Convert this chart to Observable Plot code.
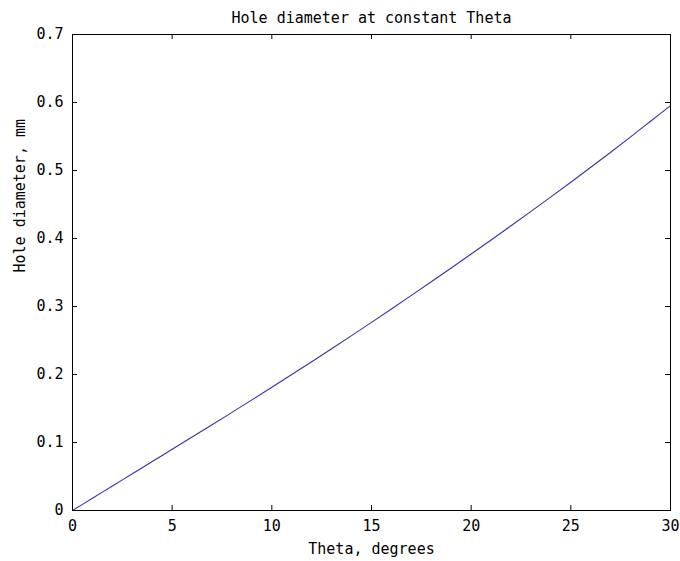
<!DOCTYPE html>
<html>
<head>
<meta charset="utf-8">
<script src="https://cdn.jsdelivr.net/npm/d3@7"></script>
<script src="https://cdn.jsdelivr.net/npm/@observablehq/plot@0.6"></script>
<style>
  html, body { margin: 0; padding: 0; background: #fff; }
</style>
</head>
<body>
<div id="chart"></div>
<script>
const theta = [0,1,2,3,4,5,6,7,8,9,10,11,12,13,14,15,16,17,18,19,20,21,22,23,24,25,26,27,28,29,30];
const diameter = [0,0.018,0.036,0.054,0.072,0.090,0.108,0.126,0.1443,0.1627,0.1812,0.1999,0.2188,0.2379,0.2572,0.2767,0.2964,0.3163,0.3364,0.3567,0.3772,0.3979,0.4188,0.4399,0.4612,0.4828,0.5047,0.5269,0.5495,0.5725,0.5955];
const xTicks = [0,5,10,15,20,25,30];
const yTicks = [0,0.1,0.2,0.3,0.4,0.5,0.6,0.7];
const yTickLabels = ["0","0.1","0.2","0.3","0.4","0.5","0.6","0.7"];
const title = "Hole diameter at constant Theta";
const xLabel = "Theta, degrees";
const yLabel = "Hole diameter, mm";

const data = theta.map((t, i) => ({theta: t, d: diameter[i]}));

const W = 680, H = 561, mL = 72, mR = 10, mT = 34, mB = 51;
const innerW = W - mL - mR, innerH = H - mT - mB;
const tickLen = 5;
const font = "DejaVu Sans Mono";

const chart = Plot.plot({
  width: W, height: H,
  marginLeft: mL, marginRight: mR, marginTop: mT, marginBottom: mB,
  style: {fontFamily: font, fontSize: "15px", color: "#000", background: "#fff"},
  x: {domain: [0, 30]},
  y: {domain: [0, 0.7]},
  marks: [
    Plot.line(data, {x: "theta", y: "d", stroke: "#3434aa", strokeWidth: 1.1, curve: "monotone-x"}),
    Plot.frame({stroke: "#000", strokeWidth: 1}),
    // inward tick marks on all four sides
    Plot.tickX(xTicks, {x: d => d, insetTop: innerH - tickLen, stroke: "#000"}),
    Plot.tickX(xTicks, {x: d => d, insetBottom: innerH - tickLen, stroke: "#000"}),
    Plot.tickY(yTicks, {y: d => d, insetRight: innerW - tickLen, stroke: "#000"}),
    Plot.tickY(yTicks, {y: d => d, insetLeft: innerW - tickLen, stroke: "#000"}),
    Plot.axisX(xTicks, {tickSize: 0, tickPadding: 10, label: null, fontSize: 15, fontFamily: font}),
    Plot.axisY(yTicks, {tickSize: 0, tickPadding: 9, label: null, tickFormat: (d, i) => yTickLabels[i], fontSize: 15, fontFamily: font}),
    Plot.text([title], {frameAnchor: "top", dy: -16, lineAnchor: "middle", fontSize: 15, fontFamily: font}),
    Plot.text([xLabel], {frameAnchor: "bottom", dy: 39, lineAnchor: "middle", fontSize: 15, fontFamily: font}),
    Plot.text([yLabel], {frameAnchor: "left", dx: -52, rotate: -90, lineAnchor: "middle", fontSize: 15, fontFamily: font})
  ]
});
document.getElementById("chart").appendChild(chart);
</script>
</body>
</html>
